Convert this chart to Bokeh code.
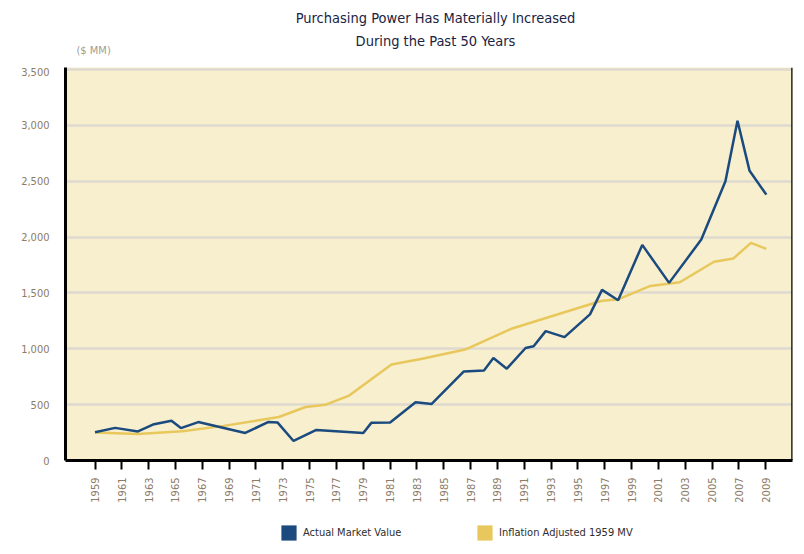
from bokeh.plotting import figure
from bokeh.layouts import column
from bokeh.models import (Range1d, FixedTicker, Label, Legend, LegendItem,
                          ColumnDataSource, Span)
from bokeh.embed import file_html
from bokeh.resources import INLINE

# ---- data ----
market_years = [1959.0, 1960.5, 1962.2, 1963.4, 1964.7, 1965.4, 1966.7, 1970.2,
                1971.9, 1972.6, 1973.8, 1975.5, 1979.0, 1979.6, 1981.0, 1982.9,
                1984.1, 1986.5, 1988.0, 1988.7, 1989.7, 1991.1, 1991.7, 1992.6,
                1994.0, 1995.9, 1996.8, 1998.0, 1999.8, 2001.8, 2004.2, 2006.0,
                2006.9, 2007.8, 2009.05]
market_values = [253, 292, 260, 325, 355, 290, 344, 247,
                 344, 341, 175, 274, 247, 337, 341, 522,
                 506, 797, 806, 917, 822, 1007, 1023, 1158,
                 1104, 1308, 1527, 1435, 1930, 1590, 1978, 2500,
                 3041, 2593, 2380]

inflation_years = [1959.0, 1962.2, 1965.5, 1968.6, 1972.7, 1974.7, 1976.2, 1977.9,
                   1981.1, 1983.3, 1986.6, 1990.1, 1996.7, 1998.0, 2000.4, 2002.6,
                   2005.15, 2006.6, 2007.9, 2009.05]
inflation_values = [250, 238, 262, 310, 389, 479, 500, 578,
                    860, 908, 993, 1182, 1428, 1443, 1563, 1596,
                    1779, 1809, 1948, 1894]

x_ticks = [1959, 1961, 1963, 1965, 1967, 1969, 1971, 1973, 1975, 1977, 1979,
           1981, 1983, 1985, 1987, 1989, 1991, 1993, 1995, 1997, 1999, 2001,
           2003, 2005, 2007, 2009]
x_tick_labels = ["1959", "1961", "1963", "1965", "1967", "1969", "1971", "1973",
                 "1975", "1977", "1979", "1981", "1983", "1985", "1987", "1989",
                 "1991", "1993", "1995", "1997", "1999", "2001", "2003", "2005",
                 "2007", "2009"]
y_ticks = [0, 500, 1000, 1500, 2000, 2500, 3000, 3500]
y_tick_labels = ["0", "500", "1,000", "1,500", "2,000", "2,500", "3,000", "3,500"]

title_lines = ["Purchasing Power Has Materially Increased", "During the Past 50 Years"]
unit_label = "($ MM)"
series_names = ["Actual Market Value", "Inflation Adjusted 1959 MV"]

# ---- style ----
FONT = "'Liberation Sans Narrow', 'DejaVu Sans Condensed', 'Roboto', sans-serif"
BLUE = "#1B4A7E"
GOLD = "#E8C85C"
TICK_COLOR = "#8C7B66"
W = 798

X0, X1 = 1956.8, 2011.0


def blank_fig(h):
    f = figure(width=W, height=h, output_backend="svg", toolbar_location=None,
               title=None, x_axis_type=None, y_axis_type=None,
               x_range=Range1d(0, 1), y_range=Range1d(0, 1),
               min_border=0, min_border_left=0, min_border_right=0,
               min_border_top=0, min_border_bottom=0)
    f.outline_line_color = None
    f.background_fill_color = "white"
    f.border_fill_color = "white"
    f.grid.visible = False
    return f


# ---- header (title + unit); screen x measured from the aligned frame's left edge ----
head = blank_fig(67)
head.add_layout(Label(x=370, y=50, x_units="screen", y_units="screen", text=title_lines[0],
                      text_align="center", text_baseline="middle", text_font=FONT,
                      text_font_size="14.5px", text_color="#1A2342"))
head.add_layout(Label(x=370, y=27, x_units="screen", y_units="screen", text=title_lines[1],
                      text_align="center", text_baseline="middle", text_font=FONT,
                      text_font_size="14.5px", text_color="#1A2342"))
head.add_layout(Label(x=11, y=17, x_units="screen", y_units="screen", text=unit_label,
                      text_align="left", text_baseline="middle", text_font=FONT,
                      text_font_size="11px", text_color="#A39C92"))

# ---- main chart ----
p = figure(width=W, height=438, output_backend="svg", toolbar_location=None,
           title=None, x_range=Range1d(X0, X1), y_range=Range1d(0, 3518),
           min_border_left=65, min_border_right=6, min_border_top=0,
           min_border_bottom=45)
p.background_fill_color = "#F7EFCD"
p.border_fill_color = "white"
p.outline_line_color = None

p.xgrid.visible = False
p.ygrid.ticker = FixedTicker(ticks=y_ticks)
p.ygrid.grid_line_color = "#DEDAD0"
p.ygrid.grid_line_width = 2.5

xa = p.xaxis[0]
xa.ticker = FixedTicker(ticks=x_ticks)
xa.major_label_overrides = {t: l for t, l in zip(x_ticks, x_tick_labels)}
xa.major_label_orientation = 3.14159265 / 2
xa.major_label_text_font = FONT
xa.major_label_text_font_size = "11px"
xa.major_label_text_color = TICK_COLOR
xa.major_label_standoff = 8
xa.axis_line_color = "black"
xa.axis_line_width = 3
xa.major_tick_line_color = "black"
xa.major_tick_line_width = 2
xa.major_tick_out = 9
xa.major_tick_in = 0
xa.minor_tick_line_color = None

ya = p.yaxis[0]
ya.ticker = FixedTicker(ticks=y_ticks)
ya.major_label_overrides = {t: l for t, l in zip(y_ticks, y_tick_labels)}
ya.major_label_text_font = FONT
ya.major_label_text_font_size = "11px"
ya.major_label_text_color = TICK_COLOR
ya.major_label_standoff = 10
ya.axis_line_color = "black"
ya.axis_line_width = 3
ya.major_tick_line_color = None
ya.minor_tick_line_color = None

p.add_layout(Span(location=X1, dimension="height", line_color="black", line_width=2.5))

p.line(inflation_years, inflation_values, line_color=GOLD, line_width=2.5)
p.line(market_years, market_values, line_color=BLUE, line_width=2.5)

# ---- legend strip (swatch renderers sit outside the visible range) ----
foot = blank_fig(43)
swatch_a = ColumnDataSource(data=dict(l=[5], r=[6], b=[5], t=[6]))
swatch_b = ColumnDataSource(data=dict(l=[5], r=[6], b=[5], t=[6]))
sw_a = foot.quad(left="l", right="r", bottom="b", top="t", source=swatch_a,
                 fill_color=BLUE, line_color=None)
sw_b = foot.quad(left="l", right="r", bottom="b", top="t", source=swatch_b,
                 fill_color=GOLD, line_color=None)
for (name, rend, lx) in [(series_names[0], sw_a, 214), (series_names[1], sw_b, 410)]:
    lg = Legend(items=[LegendItem(label=name, renderers=[rend])],
                location=(lx, 6), orientation="horizontal",
                glyph_width=19, glyph_height=19, label_standoff=5,
                padding=0, margin=0, border_line_color=None,
                background_fill_alpha=0, label_text_font=FONT,
                label_text_font_size="11px", label_text_color="#2E2E2E")
    foot.add_layout(lg, "center")

layout = column(head, p, foot, spacing=0)
open("out.html", "w").write(file_html(layout, INLINE))
